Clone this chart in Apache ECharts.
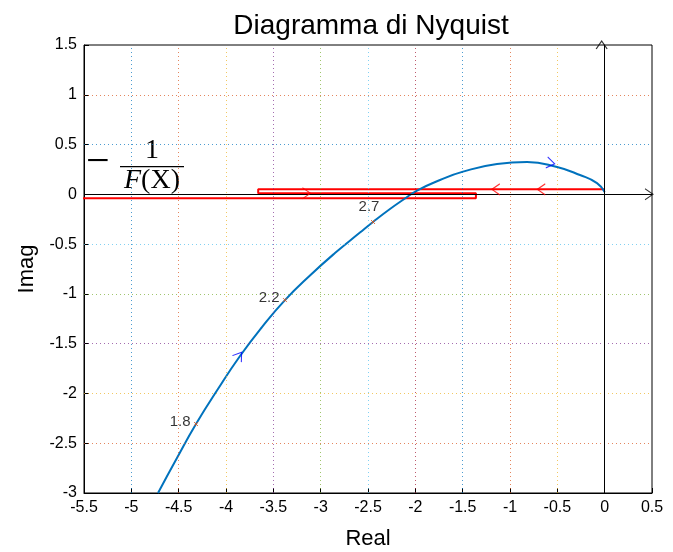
<!DOCTYPE html>
<html>
<head>
<meta charset="utf-8">
<script src="https://cdn.jsdelivr.net/npm/echarts@6/dist/echarts.min.js"></script>
<style>
html, body { margin: 0; padding: 0; background: #fff; }
#main { width: 673px; height: 552px; }
</style>
</head>
<body>
<div id="main"></div>
<script>
// Nyquist curve G(jw)
const nyqRe = [-4.718, -4.518, -4.317, -4.085, -3.852, -3.620, -3.377, -3.113, -2.849, -2.585, -2.447,
  -2.268, -2.109, -1.982, -1.739, -1.496, -1.137, -0.820, -0.503, -0.261, -0.081, 0.0];
const nyqIm = [-3.0, -2.649, -2.307, -1.956, -1.624, -1.333, -1.062, -0.815, -0.590, -0.384, -0.278,
  -0.148, -0.042, 0.038, 0.144, 0.228, 0.305, 0.325, 0.274, 0.194, 0.113, 0.023];

// -1/F(X) locus
const locRe = [0.0, -3.66, -3.66, -1.36, -1.36, -5.9];
const locIm = [0.05, 0.05, 0.01, 0.01, -0.04, -0.04];

// frequency marks on the curve
const omegaLabels = ['1.8', '2.2', '2.7'];
const omegaRe = [-4.317, -3.377, -2.447];
const omegaIm = [-2.307, -1.062, -0.278];

// direction arrows (x, y, angle in deg)
const blueArrowRe = [-3.86, -0.57];
const blueArrowIm = [-1.62, 0.313];
const blueArrowAng = [54, -10];
const redArrowRe = [-1.15, -0.67, -3.15];
const redArrowIm = [0.05, 0.05, 0.01];
const redArrowAng = [180, 180, 0];

const xTicks = { min: -5.5, max: 0.5, step: 0.5 };
const yTicks = { min: -3, max: 1.5, step: 0.5 };

const MC = ['#0072BD', '#D95319', '#EDB120', '#7E2F8E', '#77AC30', '#4DBEEE', '#A2142F'];
const chevron = 'path://M0,0L8,5L0,10';
const tickFont = { fontFamily: 'Liberation Sans', fontSize: 16, color: '#000' };

var myChart = echarts.init(document.getElementById('main'));

function pairs (xs, ys) {
  return xs.map((x, i) => [x, ys[i]]);
}

// inner grid lines, coloured like the MATLAB colour order
function gridLines (t, key, colorShift) {
  const out = [];
  const n = Math.round((t.max - t.min) / t.step);
  for (let k = 1; k < n; k++) {
    const v = +(t.min + k * t.step).toFixed(6);
    const d = {};
    d[key] = v;
    d.lineStyle = { color: MC[(k - 1 + colorShift) % MC.length] };
    out.push(d);
  }
  return out;
}

var option = {
  animation: false,
  backgroundColor: '#fff',
  title: {
    text: 'Diagramma di Nyquist',
    left: 366,
    top: 7,
    textAlign: 'center',
    textStyle: { fontFamily: 'Liberation Sans', fontSize: 28, fontWeight: 'normal', color: '#000' }
  },
  grid: {
    left: 84, right: 21, top: 45, bottom: 59,
    outerBoundsMode: 'none',
    containLabel: false,
    show: true, borderColor: '#000', borderWidth: 1, backgroundColor: 'transparent'
  },
  xAxis: {
    type: 'value',
    min: xTicks.min, max: xTicks.max, interval: xTicks.step,
    name: 'Real',
    nameLocation: 'middle',
    nameGap: 35,
    nameTextStyle: { fontFamily: 'Liberation Sans', fontSize: 22, color: '#000' },
    axisLine: { onZero: false, lineStyle: { color: '#000', width: 1 } },
    axisTick: { inside: true, length: 5, lineStyle: { color: '#000' } },
    axisLabel: Object.assign({ margin: 7 }, tickFont),
    splitLine: { show: false }
  },
  yAxis: {
    type: 'value',
    min: yTicks.min, max: yTicks.max, interval: yTicks.step,
    name: 'Imag',
    nameLocation: 'middle',
    nameGap: 46,
    nameTextStyle: { fontFamily: 'Liberation Sans', fontSize: 22, color: '#000' },
    axisLine: { onZero: false, lineStyle: { color: '#000', width: 1 } },
    axisTick: { inside: true, length: 5, lineStyle: { color: '#000' } },
    axisLabel: Object.assign({ margin: 7 }, tickFont),
    splitLine: { show: false }
  },
  graphic: [{
    type: 'group',
    left: 86,
    top: 137,
    children: [
      { type: 'text', x: 0, y: 21, style: { text: '\u2212', font: '42px "Liberation Serif"', fill: '#000', verticalAlign: 'middle' } },
      { type: 'text', x: 66, y: 23, style: { text: '1', font: '28px "Liberation Serif"', fill: '#000', align: 'center', verticalAlign: 'bottom' } },
      { type: 'rect', shape: { x: 34, y: 24, width: 64, height: 1.3 }, style: { fill: '#000' } },
      { type: 'text', x: 66, y: 25, style: {
        text: '{i|F}(X)', font: '28px "Liberation Serif"', fill: '#000', align: 'center', verticalAlign: 'top',
        rich: { i: { font: 'italic 28px "Liberation Serif"' } }
      } }
    ]
  }],
  series: [{
    name: 'grid',
    type: 'line',
    data: [],
    z: 0,
    markLine: {
      silent: true,
      symbol: 'none',
      label: { show: false },
      lineStyle: { type: [1, 3], width: 1, opacity: 0.7 },
      data: gridLines(xTicks, 'xAxis', 0).concat(gridLines(yTicks, 'yAxis', 1))
    }
  }, {
    name: 'axes',
    type: 'line',
    data: [],
    z: 1,
    markLine: {
      silent: true,
      symbol: 'none',
      label: { show: false },
      lineStyle: { color: '#000', width: 1, type: 'solid' },
      data: [{ yAxis: 0 }, { xAxis: 0 }]
    }
  }, {
    name: 'locus',
    type: 'line',
    data: pairs(locRe, locIm),
    symbol: 'none',
    z: 2,
    lineStyle: { color: '#ff0000', width: 2 }
  }, {
    name: 'nyquist',
    type: 'line',
    data: pairs(nyqRe, nyqIm),
    symbol: 'none',
    smooth: 0.5,
    z: 3,
    lineStyle: { color: '#0072BD', width: 2 }
  }, {
    name: 'omega',
    type: 'scatter',
    z: 4,
    symbol: 'path://M0,0L10,10M0,10L10,0',
    symbolSize: 4,
    itemStyle: { color: 'transparent', borderColor: '#D95319', borderWidth: 1 },
    data: omegaRe.map((x, i) => ({
      value: [x, omegaIm[i]],
      label: {
        show: true,
        formatter: omegaLabels[i],
        position: i === 2 ? 'top' : 'left',
        offset: i === 2 ? [-4, -2] : [0, -2],
        distance: 3,
        fontFamily: 'Liberation Sans', fontSize: 15, color: '#000'
      }
    }))
  }, {
    name: 'blueArrows',
    type: 'scatter',
    z: 5,
    symbol: chevron,
    symbolSize: [8, 11],
    itemStyle: { color: 'transparent', borderColor: '#0000ff', borderWidth: 1 },
    data: blueArrowRe.map((x, i) => ({ value: [x, blueArrowIm[i]], symbolRotate: blueArrowAng[i] }))
  }, {
    name: 'redArrows',
    type: 'scatter',
    z: 5,
    symbol: chevron,
    symbolSize: [8, 11],
    itemStyle: { color: 'transparent', borderColor: '#ff0000', borderWidth: 1 },
    data: redArrowRe.map((x, i) => ({ value: [x, redArrowIm[i]], symbolRotate: redArrowAng[i] }))
  }, {
    name: 'axisArrows',
    type: 'scatter',
    z: 5,
    symbol: chevron,
    symbolSize: [8, 11],
    symbolOffset: [-3, 0],
    itemStyle: { color: 'transparent', borderColor: '#000', borderWidth: 1 },
    data: [
      { value: [xTicks.max, 0], symbolRotate: 0 },
      { value: [0, yTicks.max], symbolRotate: 90 }
    ]
  }]
};

myChart.setOption(option);
</script>
</body>
</html>
